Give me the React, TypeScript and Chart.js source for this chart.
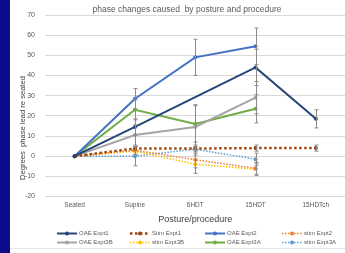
import React, { useEffect, useRef } from "react";
import { Chart, registerables } from "chart.js";

Chart.register(...registerables);

const categories = ["Seated", "Supine", "6HDT", "15HDT", "15HDTch"];

const seriesNames = [
  "OAE Expt1", "Stim Expt1", "OAE Expt2", "stim Expt2",
  "OAE Expt3B", "stim Expt3B", "OAE Expt3A", "stim Expt3A",
];

const oaeExpt1 = [0, 14.5, null, 44, 18.5];
const stimExpt1 = [0, 3.8, 3.8, 4, 4];
const oaeExpt2 = [0, 28.5, 49, 54.5, null];
const stimExpt2 = [0, 3, -1.8, -6, null];
const oaeExpt3B = [0, 10.5, 14.5, 29, null];
const stimExpt3B = [0, 2.5, -4, -6.5, null];
const oaeExpt3A = [0, 23, 16, 23.5, null];
const stimExpt3A = [0, 0, 3.5, -1.5, null];

const errOaeExpt1 = [0, 4, null, 9, 4.5];
const errStimExpt1 = [0, 1, 1, 1.5, 1.5];
const errOaeExpt2 = [0, 5, 9, 9, null];
const errStimExpt2 = [0, 2, 4, 3, null];
const errOaeExpt3B = [0, 5, 11, 8, null];
const errStimExpt3B = [0, 2, 4.5, 3, null];
const errOaeExpt3A = [0, 5, 9, 7, null];
const errStimExpt3A = [0, 4.8, 2, 3, null];

const yMin = -20;
const yMax = 70;
const yStep = 10;

const chartTitle = "phase changes caused  by posture and procedure";
const xTitle = "Posture/procedure";
const yTitle = "Degrees  phase lead re seated";

const FONT = "'Liberation Sans', Arial, sans-serif";

const seriesValues = [oaeExpt1, stimExpt1, oaeExpt2, stimExpt2, oaeExpt3B, stimExpt3B, oaeExpt3A, stimExpt3A];
const seriesErrors = [errOaeExpt1, errStimExpt1, errOaeExpt2, errStimExpt2, errOaeExpt3B, errStimExpt3B, errOaeExpt3A, errStimExpt3A];
const seriesColors = ["#264478", "#9E480E", "#4472C4", "#ED7D31", "#A5A5A5", "#FFC000", "#70AD47", "#5B9BD5"];
const seriesDotted = [false, true, false, true, false, true, false, true];
const seriesWidths = [2, 2.5, 2, 1.5, 2, 1.5, 2, 1.5];

const errorBarPlugin = {
  id: "errorBars",
  afterDatasetsDraw(chart: any) {
    const { ctx } = chart;
    const x = chart.scales.x;
    const y = chart.scales.y;
    ctx.save();
    ctx.strokeStyle = "#8a8a8a";
    ctx.lineWidth = 1;
    chart.data.datasets.forEach((ds: any) => {
      const errs = ds.errors;
      if (!errs) return;
      ds.data.forEach((v: any, i: number) => {
        const e = errs[i];
        if (v == null || e == null || e === 0) return;
        const px = Math.round(x.getPixelForValue(i)) + 0.5;
        const top = y.getPixelForValue(v + e);
        const bot = y.getPixelForValue(v - e);
        ctx.beginPath();
        ctx.moveTo(px, top);
        ctx.lineTo(px, bot);
        ctx.moveTo(px - 2, top);
        ctx.lineTo(px + 2, top);
        ctx.moveTo(px - 2, bot);
        ctx.lineTo(px + 2, bot);
        ctx.stroke();
      });
    });
    ctx.restore();
  },
};

const textPlugin = {
  id: "customText",
  afterDraw(chart: any) {
    const { ctx, chartArea } = chart;
    ctx.save();
    // Chart title
    ctx.fillStyle = "#595959";
    ctx.font = `8.5px ${FONT}`;
    ctx.textAlign = "center";
    ctx.textBaseline = "middle";
    ctx.fillText(chartTitle, 177, 10);
    // Y axis title
    ctx.save();
    ctx.translate(12.5, 128);
    ctx.rotate(-Math.PI / 2);
    ctx.fillStyle = "#404040";
    ctx.font = `7.6px ${FONT}`;
    ctx.fillText(yTitle, 0, 0);
    ctx.restore();
    // Legend
    const cols = [47, 120, 195, 272];
    const rows = [233.5, 242.5];
    chart.data.datasets.forEach((ds: any, i: number) => {
      const cx = cols[i % 4];
      const cy = rows[Math.floor(i / 4)];
      ctx.strokeStyle = ds.borderColor;
      ctx.lineWidth = ds.borderWidth;
      ctx.setLineDash(ds.borderDash || []);
      ctx.beginPath();
      ctx.moveTo(cx, cy);
      ctx.lineTo(cx + 20, cy);
      ctx.stroke();
      ctx.setLineDash([]);
      ctx.fillStyle = ds.borderColor;
      ctx.beginPath();
      ctx.arc(cx + 10, cy, 2, 0, Math.PI * 2);
      ctx.fill();
      ctx.fillStyle = "#595959";
      ctx.font = `6px ${FONT}`;
      ctx.textAlign = "left";
      ctx.fillText(ds.label, cx + 22, cy);
    });
    ctx.restore();
  },
};

export default function App() {
  const ref = useRef<HTMLCanvasElement>(null);
  useEffect(() => {
    document.body.style.margin = "0";
    const datasets = seriesNames.map((name, i) => ({
      label: name,
      data: seriesValues[i],
      errors: seriesErrors[i],
      borderColor: seriesColors[i],
      backgroundColor: seriesColors[i],
      borderWidth: seriesWidths[i],
      borderDash: seriesDotted[i] ? [seriesWidths[i], seriesWidths[i]] : [],
      pointRadius: 2,
      pointBorderWidth: 0,
      pointBackgroundColor: seriesColors[i],
      spanGaps: true,
      tension: 0,
    }));
    const chart = new Chart(ref.current as HTMLCanvasElement, {
      type: "line",
      data: { labels: categories, datasets: datasets as any },
      options: {
        responsive: false,
        animation: false,
        layout: { padding: { top: 15, bottom: 28.5, left: 0, right: 0 } },
        plugins: {
          legend: { display: false },
          title: { display: false },
          tooltip: { enabled: false },
        },
        scales: {
          x: {
            offset: true,
            grid: { display: false, drawTicks: false },
            border: { display: false },
            ticks: {
              color: "#595959",
              font: { family: FONT, size: 6.5 },
              padding: 5,
              maxRotation: 0,
            },
            title: {
              display: true,
              text: xTitle,
              color: "#404040",
              font: { family: FONT, size: 9 },
              padding: { top: 1, bottom: 0 },
            },
            afterFit: (s: any) => { s.height = 28; },
          },
          y: {
            min: yMin,
            max: yMax,
            ticks: {
              stepSize: yStep,
              color: "#595959",
              font: { family: FONT, size: 7 },
              padding: 9.5,
            },
            grid: { color: "#d9d9d9", drawTicks: false, lineWidth: 1 },
            border: { display: false },
            afterFit: (s: any) => { s.width = 34.5; },
          },
        },
      },
      plugins: [errorBarPlugin, textPlugin],
    } as any);
    return () => chart.destroy();
  }, []);
  return (
    <div style={{ position: "relative", width: 345, height: 253, overflow: "hidden", background: "#fff" }}>
      <div style={{ position: "absolute", left: 0, top: 0, width: 10, height: 253, background: "#0c0c8a" }} />
      <div style={{ position: "absolute", left: 10, top: 248, width: 335, height: 1, background: "#e6e6e6" }} />
      <canvas ref={ref} width={340} height={253} style={{ position: "absolute", left: 10, top: 0 }} />
    </div>
  );
}
